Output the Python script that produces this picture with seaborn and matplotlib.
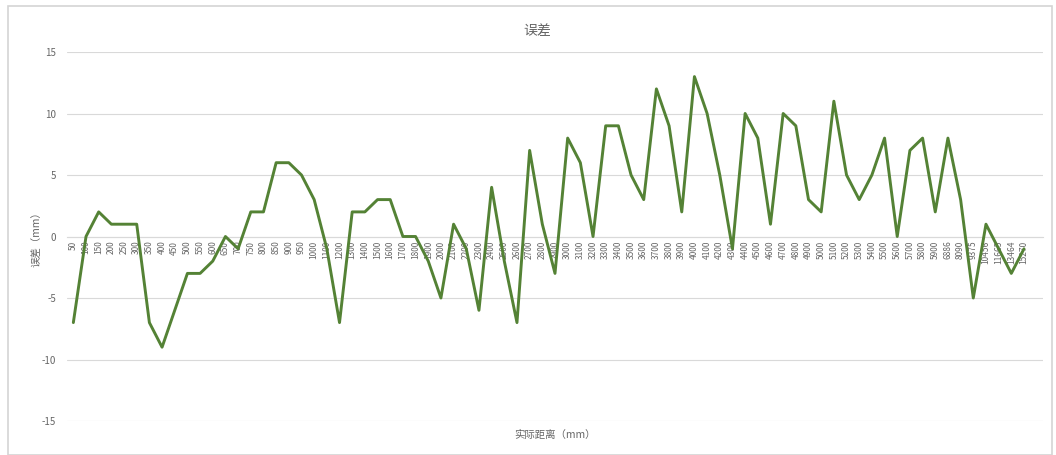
import matplotlib
matplotlib.use("Agg")
import matplotlib.pyplot as plt
from matplotlib.patches import Rectangle
import seaborn as sns
import pandas as pd

# Measured distances (category labels) and corresponding errors
distance_labels = [
    "50", "100", "150", "200", "250", "300", "350", "400", "450", "500",
    "550", "600", "650", "700", "750", "800", "850", "900", "950", "1000",
    "1100", "1200", "1300", "1400", "1500", "1600", "1700", "1800", "1900", "2000",
    "2100", "2200", "2300", "2400", "2500", "2600", "2700", "2800", "2900", "3000",
    "3100", "3200", "3300", "3400", "3500", "3600", "3700", "3800", "3900", "4000",
    "4100", "4200", "4300", "4400", "4500", "4600", "4700", "4800", "4900", "5000",
    "5100", "5200", "5300", "5400", "5500", "5600", "5700", "5800", "5900", "6886",
    "8090", "9375", "10456", "11665", "13464", "15270",
]
errors = [
    -7, 0, 2, 1, 1, 1, -7, -9, -6, -3,
    -3, -2, 0, -1, 2, 2, 6, 6, 5, 3,
    -1, -7, 2, 2, 3, 3, 0, 0, -2, -5,
    1, -1, -6, 4, -2, -7, 7, 1, -3, 8,
    6, 0, 9, 9, 5, 3, 12, 9, 2, 13,
    10, 5, -1, 10, 8, 1, 10, 9, 3, 2,
    11, 5, 3, 5, 8, 0, 7, 8, 2, 8,
    3, -5, 1, -1, -3, -1,
]
y_ticks = [-15, -10, -5, 0, 5, 10, 15]

df = pd.DataFrame({"pos": range(len(distance_labels)), "err": errors})

sns.set_style("white")
plt.rcParams["font.family"] = ["Noto Sans CJK SC", "DejaVu Sans"]

text_gray = "#666666"
grid_gray = "#d9d9d9"

fig = plt.figure(figsize=(10.56, 4.55), dpi=100)
fig.patch.set_facecolor("white")

# chart frame
fig.patches.append(Rectangle((8 / 1056, 0), 1044 / 1056, 449 / 455,
                             transform=fig.transFigure, fill=False,
                             edgecolor="#d4d4d4", linewidth=1.2, zorder=0))

ax = fig.add_axes([67 / 1056, 1 - 421 / 455, 976 / 1056, 369 / 455])

# category axis crosses the value axis at zero
for side in ["top", "right", "left"]:
    ax.spines[side].set_visible(False)
ax.spines["bottom"].set_position(("data", 0))
ax.spines["bottom"].set_color(grid_gray)
ax.spines["bottom"].set_linewidth(0.8)

sns.lineplot(data=df, x="pos", y="err", ax=ax, color="#548235",
             linewidth=2.1, zorder=3)

ax.set_ylim(-15, 15)
ax.set_xlim(-0.5, len(distance_labels) + 0.5)
ax.set_yticks(y_ticks)
ax.set_yticklabels([str(v) for v in y_ticks], color=text_gray, fontsize=7)
ax.yaxis.grid(True, color=grid_gray, linewidth=0.8)
ax.xaxis.grid(False)

ax.set_xticks(list(df["pos"]))
ax.set_xticklabels(distance_labels, rotation=90, fontsize=6, color=text_gray)
ax.tick_params(axis="x", length=0, pad=3)
ax.tick_params(axis="y", length=0, pad=8)

ax.set_xlabel("实际距离（mm）", color=text_gray, fontsize=7.5)
ax.xaxis.set_label_coords(0.5, -0.025)
ax.set_ylabel("误差（mm）", color=text_gray, fontsize=7.5)
ax.yaxis.set_label_coords(-0.026, 0.5)

ax.text(0.482, 1.057, "误差", transform=ax.transAxes, ha="center",
        va="center", fontsize=10, color=text_gray)

fig.savefig("out.png", dpi=100, facecolor="white")
